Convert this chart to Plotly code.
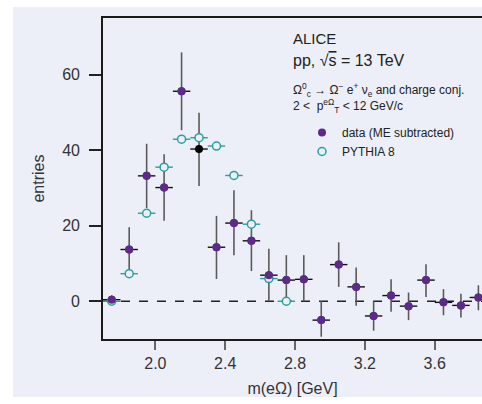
import plotly.graph_objects as go

# ---- data ----
mass_bins = [1.75, 1.85, 1.95, 2.05, 2.15, 2.25, 2.35, 2.45, 2.55, 2.65, 2.75,
             2.85, 2.95, 3.05, 3.15, 3.25, 3.35, 3.45, 3.55, 3.65, 3.75, 3.85]
data_entries = [0.4, 13.7, 33.2, 30.1, 55.6, 40.3, 14.3, 20.7, 16.0, 6.9, 5.6,
                5.8, -5.0, 9.7, 3.8, -3.9, 1.5, -1.3, 5.6, -0.3, -1.1, 1.0]
data_err_up = [1.2, 5.9, 8.5, 8.8, 10.3, 9.6, 8.3, 8.7, 8.1, 7.0, 6.6,
               6.4, 5.0, 5.9, 5.1, 3.9, 4.3, 3.6, 4.2, 3.5, 3.1, 3.2]
data_err_dn = [1.2, 5.9, 8.5, 8.8, 10.3, 9.8, 8.4, 8.5, 8.0, 6.9, 5.6,
               5.8, 4.4, 5.9, 5.0, 3.9, 4.3, 3.7, 4.5, 3.4, 3.2, 3.4]
pythia_bins = [1.75, 1.85, 1.95, 2.05, 2.15, 2.25, 2.35, 2.45, 2.55, 2.65, 2.75]
pythia_entries = [0.0, 7.3, 23.3, 35.5, 42.9, 43.3, 41.1, 33.3, 20.4, 6.0, 0.0]
half_bin = 0.05
highlight_bin = 2.25

x_ticks = [2.0, 2.4, 2.8, 3.2, 3.6]
x_tick_labels = ["2.0", "2.4", "2.8", "3.2", "3.6"]
y_ticks = [0, 20, 40, 60]

BG = "#eceff8"
PURPLE = "#5c2a88"
TEAL = "#2a9f9c"
FONT = "Liberation Sans"
TXT = "#222222"

# split out the highlighted (black) point
hi = mass_bins.index(highlight_bin)
reg_idx = [i for i in range(len(mass_bins)) if i != hi]

fig = go.Figure()

fig.add_trace(go.Scatter(
    x=[mass_bins[i] for i in reg_idx], y=[data_entries[i] for i in reg_idx],
    mode="markers", marker=dict(color=PURPLE, size=8),
    error_y=dict(type="data", array=[data_err_up[i] for i in reg_idx],
                 arrayminus=[data_err_dn[i] for i in reg_idx],
                 color="#5a5a5a", thickness=1.6, width=0),
    error_x=dict(type="constant", value=half_bin, color="#111111", thickness=1.4, width=0),
    showlegend=False, hoverinfo="skip"))

fig.add_trace(go.Scatter(
    x=[mass_bins[hi]], y=[data_entries[hi]],
    mode="markers", marker=dict(color="#000000", size=8),
    error_y=dict(type="data", array=[data_err_up[hi]], arrayminus=[data_err_dn[hi]],
                 color="#5a5a5a", thickness=1.6, width=0),
    error_x=dict(type="constant", value=half_bin, color="#111111", thickness=1.4, width=0),
    showlegend=False, hoverinfo="skip"))

fig.add_trace(go.Scatter(
    x=pythia_bins, y=pythia_entries, mode="markers", name="PYTHIA 8",
    marker=dict(color=BG, size=8, line=dict(color=TEAL, width=1.5)),
    error_x=dict(type="constant", value=half_bin, color=TEAL, thickness=1.4, width=0),
    legendrank=2, hoverinfo="skip"))

fig.add_trace(go.Scatter(
    x=[mass_bins[i] for i in reg_idx], y=[data_entries[i] for i in reg_idx],
    mode="markers", name="data (ME subtracted)",
    marker=dict(color=PURPLE, size=8), legendrank=1, hoverinfo="skip"))

W, H = 482, 404
L, T, B = 103, 18, 65
pw, ph = W - L, H - T - B

def px_x(p):
    return (p - L) / pw

def px_y(p):
    return (H - B - p) / ph

shapes = [
    dict(type="rect", xref="paper", yref="paper", x0=px_x(13), x1=1.05,
         y0=px_y(397), y1=px_y(7), fillcolor=BG, line=dict(width=0), layer="below"),
    dict(type="line", xref="paper", yref="y", x0=0, x1=1, y0=0, y1=0,
         line=dict(color="#222222", width=1.3, dash="dash"), layer="below"),
]

def note(text, xp, yp, size):
    return dict(text=text, xref="paper", yref="paper", x=px_x(xp), y=px_y(yp),
                xanchor="left", yanchor="middle", showarrow=False,
                font=dict(size=size, color=TXT, family=FONT))

annotations = [
    note("ALICE", 291, 38, 15),
    note("pp, √<span style='text-decoration:overline'>s</span> = 13 TeV", 291, 60, 16),
    note("Ω<sup>0</sup><sub>c</sub> → Ω<sup>−</sup> e<sup>+</sup> ν<sub>e</sub> and charge conj.", 291, 90, 12),
    note("2 <  p<sup>eΩ</sup><sub>T</sub> < 12 GeV/c", 291, 106, 12),
]

fig.update_layout(
    width=W, height=H,
    margin=dict(l=L, r=0, t=T, b=B),
    paper_bgcolor="white", plot_bgcolor=BG,
    font=dict(family=FONT, size=16, color="#333333"),
    shapes=shapes, annotations=annotations,
    legend=dict(x=px_x(302), y=px_y(118), xanchor="left", yanchor="top",
                bgcolor="rgba(0,0,0,0)", font=dict(size=12, color=TXT, family=FONT),
                itemwidth=30, tracegroupgap=0),
    xaxis=dict(range=[1.7, 1.7 + pw / 174.6], tickvals=x_ticks, ticktext=x_tick_labels,
               ticks="outside", ticklen=9, tickwidth=1.5, tickcolor="#666666",
               showline=True, linecolor="#1a1a1a", linewidth=1.6, mirror=True,
               showgrid=False, zeroline=False,
               title=dict(text="m(eΩ) [GeV]", font=dict(size=16, color="#333333"), standoff=12),
               tickfont=dict(size=16, color="#333333")),
    yaxis=dict(range=[-10, 75], tickvals=y_ticks,
               ticks="outside", ticklen=12, tickwidth=1.5, tickcolor="#222222",
               showline=True, linecolor="#1a1a1a", linewidth=1.6, mirror=False,
               showgrid=False, zeroline=False, ticklabelstandoff=6,
               title=dict(text="entries", font=dict(size=16, color="#333333"), standoff=14),
               tickfont=dict(size=16, color="#333333")),
)

fig.write_html("out.html")
